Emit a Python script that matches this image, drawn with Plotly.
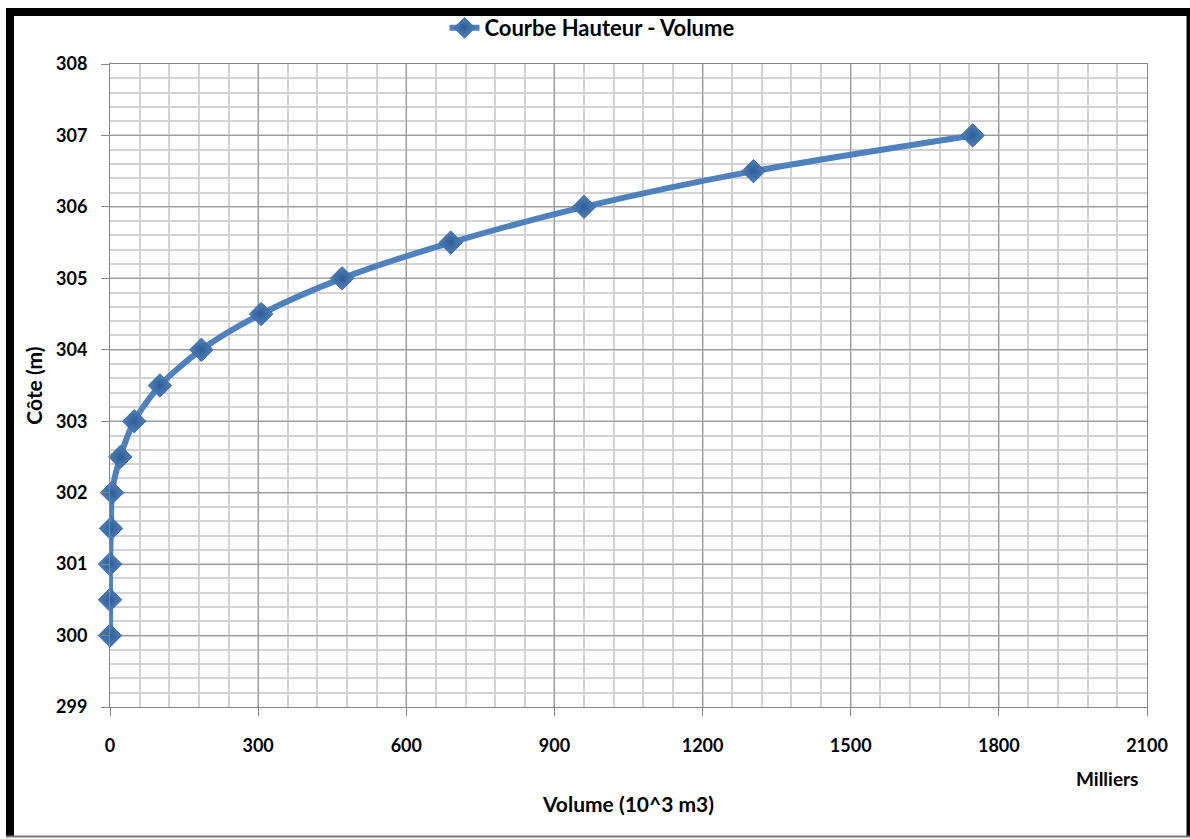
import plotly.graph_objects as go

# Data
cote_m = [300.0, 300.5, 301.0, 301.5, 302.0, 302.5, 303.0, 303.5, 304.0, 304.5, 305.0, 305.5, 306.0, 306.5, 307.0]
volume_milliers = [0, 0, 0, 2, 4, 21, 49, 101, 185, 306, 470, 690, 960, 1303, 1747]
x_ticks = [0, 300, 600, 900, 1200, 1500, 1800, 2100]
y_ticks = [299, 300, 301, 302, 303, 304, 305, 306, 307, 308]

W, H = 1190, 839
L, R, T, B = 110, 1147, 64, 707
FONT = "Lato"
BLUE = "#4f81bd"

def px(xp):
    return (xp - L) / (R - L)

def py(yp):
    return (B - yp) / (B - T)

fig = go.Figure()
fig.add_trace(go.Scatter(
    x=volume_milliers, y=cote_m, mode="lines+markers",
    name="<b>Courbe Hauteur - Volume</b>",
    cliponaxis=False,
    line=dict(color=BLUE, width=6, shape="spline", smoothing=0.8),
    marker=dict(symbol="diamond", size=18, color=BLUE,
                line=dict(color="#3b6aa3", width=1),
                gradient=dict(type="radial", color="#2f5d95")),
))

axis_common = dict(
    showline=True, linecolor="#868686", linewidth=1,
    ticks="outside", ticklen=8, tickcolor="#868686", tickwidth=1,
    showgrid=True, gridcolor="#9a9a9a", gridwidth=1,
    zeroline=False,
    tickfont=dict(family=FONT, size=18, color="#000000", weight="bold"),
)

fig.update_xaxes(
    range=[0, 2100], tickvals=x_ticks, ticktext=[str(v) for v in x_ticks],
    minor=dict(dtick=60, tick0=0, showgrid=True, gridcolor="#d2d2d2", gridwidth=2, ticks=""),
    mirror=True, ticklabelstandoff=14,
    title=dict(text="<b>Volume (10^3 m3)</b>", font=dict(family=FONT, size=21, color="#000"), standoff=42),
    **axis_common,
)
fig.update_yaxes(
    range=[299, 308], tickvals=y_ticks, ticktext=[str(v) for v in y_ticks],
    minor=dict(dtick=0.2, tick0=299, showgrid=True, gridcolor="#d2d2d2", gridwidth=2, ticks=""),
    mirror=True, ticklabelstandoff=10,
    title=dict(text="<b>Côte (m)</b>", font=dict(family=FONT, size=21, color="#000"), standoff=7),
    **axis_common,
)

shapes = [
    dict(type="line", xref="paper", yref="paper", x0=px(6), x1=px(1190), y0=py(12), y1=py(12),
         line=dict(color="#000", width=8)),
    dict(type="line", xref="paper", yref="paper", x0=px(10), x1=px(10), y0=py(8), y1=py(836),
         line=dict(color="#000", width=8)),
    dict(type="line", xref="paper", yref="paper", x0=px(1189), x1=px(1189), y0=py(8), y1=py(836),
         line=dict(color="#000", width=5)),
    dict(type="line", xref="paper", yref="paper", x0=px(6), x1=px(1190), y0=py(836.5), y1=py(836.5),
         line=dict(color="#777", width=2)),
]

annotations = [
    dict(text="<b>Milliers</b>", xref="paper", yref="paper", x=px(1107), y=py(778),
         xanchor="center", yanchor="middle", showarrow=False,
         font=dict(family=FONT, size=19, color="#000")),
]

fig.update_layout(
    width=W, height=H,
    margin=dict(l=L, r=W - R, t=T, b=H - B, autoexpand=False),
    paper_bgcolor="white", plot_bgcolor="white",
    showlegend=True,
    legend=dict(orientation="h", x=px(592), xanchor="center", y=py(28), yanchor="middle",
                font=dict(family=FONT, size=22, color="#000"), bgcolor="rgba(0,0,0,0)",
                itemwidth=30),
    shapes=shapes, annotations=annotations,
)

fig.write_html("out.html")
